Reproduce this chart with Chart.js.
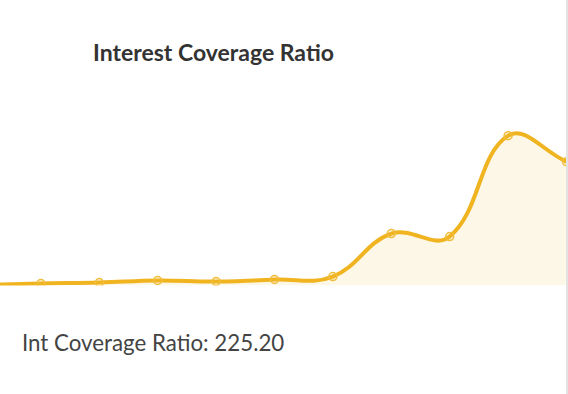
<!DOCTYPE html>
<html>
<head>
<meta charset="utf-8">
<script src="https://cdn.jsdelivr.net/npm/chart.js@4/dist/chart.umd.min.js"></script>
<style>
  html, body { margin:0; padding:0; background:#fff; width:568px; height:394px; overflow:hidden; }
  #clip { position:absolute; left:0; top:0; width:566px; height:394px; overflow:hidden; }
  #wrap { position:absolute; left:-23px; top:115px; width:595px; height:176px; }
  #title { position:absolute; left:93px; top:38px; font-family:Lato, sans-serif; font-weight:bold; font-size:23px; color:#333; white-space:nowrap; }
  #footer { position:absolute; left:22px; top:329px; font-family:Lato, sans-serif; font-size:22.3px; color:#444; white-space:nowrap; }
  #edge { position:absolute; left:566px; top:0; width:2px; height:394px; background:#e2e2e2; }
</style>
</head>
<body>
<div id="title">Interest Coverage Ratio</div>
<div id="clip"><div id="wrap"><canvas id="c"></canvas></div></div>
<div id="footer">Int Coverage Ratio: 225.20</div>
<div id="edge"></div>
<script>
const labels = ['2013','2014','2015','2016','2017','2018','2019','2020','2021','2022','2023'];
const ratioValues = [1.0, 3.6, 5.4, 9.1, 7.3, 10.9, 16.3, 94.4, 89.0, 272.4, 225.2];
const yMin = 0;
const yMax = 300;

new Chart(document.getElementById('c'), {
  type: 'line',
  data: {
    labels: labels,
    datasets: [{
      label: 'Int Coverage Ratio',
      data: ratioValues,
      borderColor: '#F0B420',
      borderWidth: 4,
      backgroundColor: 'rgba(240,180,32,0.1)',
      fill: 'origin',
      tension: 0.4,
      pointRadius: 4,
      pointBorderWidth: 1.5,
      pointBorderColor: '#F2BD3C',
      pointBackgroundColor: 'rgba(240,180,32,0.15)'
    }]
  },
  options: {
    responsive: true,
    maintainAspectRatio: false,
    animation: false,
    layout: { padding: 0 },
    plugins: { legend: { display: false }, title: { display: false }, tooltip: { enabled: false } },
    scales: {
      x: { display: false, offset: false },
      y: { display: false, min: yMin, max: yMax }
    }
  }
});
</script>
</body>
</html>
